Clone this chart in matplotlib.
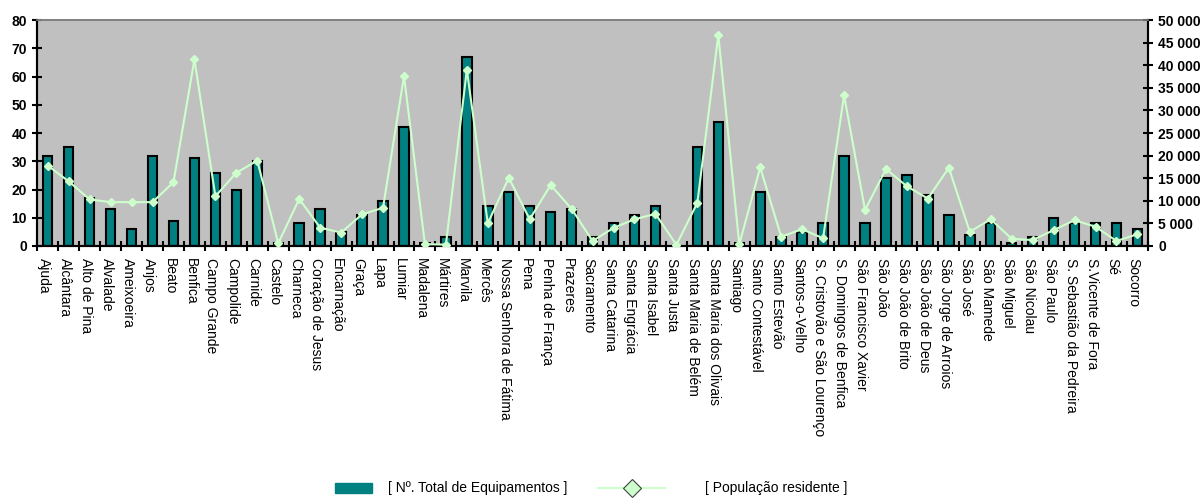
import matplotlib
matplotlib.use("Agg")
import matplotlib.pyplot as plt
from matplotlib.ticker import FuncFormatter, FixedLocator
from matplotlib.patches import Rectangle
from matplotlib.lines import Line2D
import matplotlib.transforms as mtransforms
import numpy as np

plt.rcParams['font.family'] = ['Liberation Sans', 'DejaVu Sans']

categories = [
    "Ajuda", "Alcântara", "Alto de Pina", "Alvalade", "Ameixoeira", "Anjos", "Beato",
    "Benfica", "Campo Grande", "Campolide", "Carnide", "Castelo", "Charneca",
    "Coração de Jesus", "Encarnação", "Graça", "Lapa", "Lumiar", "Madalena", "Mártires",
    "Marvila", "Mercês", "Nossa Senhora de Fátima", "Pena", "Penha de França", "Prazeres",
    "Sacramento", "Santa Catarina", "Santa Engrácia", "Santa Isabel", "Santa Justa",
    "Santa Maria de Belém", "Santa Maria dos Olivais", "Santiago", "Santo Contestável",
    "Santo Estevão", "Santos-o-Velho", "S. Cristovão e São Lourenço", "S. Domingos de Benfica",
    "São Francisco Xavier", "São João", "São João de Brito", "São João de Deus",
    "São Jorge de Arroios", "São José", "São Mamede", "São Miguel", "São Nicolau",
    "São Paulo", "S. Sebastião da Pedreira", "S.Vicente de Fora", "Sé", "Socorro",
]

equipamentos = [32, 35, 17, 13, 6, 32, 9, 31, 26, 20, 30, 1, 8, 13, 5, 11, 16, 42, 1, 3,
                67, 14, 19, 14, 12, 13, 3, 8, 11, 14, 0, 35, 44, 1, 19, 3, 5, 8, 32,
                8, 24, 25, 18, 11, 4, 8, 1, 3, 10, 8, 8, 8, 6]

populacao = [17800, 14300, 10300, 9700, 9700, 9700, 14100, 41300, 11000, 16200, 18900, 600,
             10400, 4050, 2950, 7000, 8450, 37600, 400, 300, 39000, 5000, 15100, 5900, 13500,
             8200, 1100, 4000, 5900, 7100, 250, 9550, 46700, 350, 17400, 2050, 3700, 1700,
             33400, 7950, 17050, 13200, 10500, 17300, 3150, 5900, 1600, 1300, 3500, 5700,
             4250, 1100, 2600]

left_ticks = list(range(0, 81, 10))
right_ticks = list(range(0, 50001, 5000))
legend_labels = ["[ Nº. Total de Equipamentos ]", "[ População residente ]"]

bar_color = "#008080"
line_color = "#CCFFCC"

W, H = 1202, 504
fig = plt.figure(figsize=(W / 100, H / 100), dpi=100)
ax = fig.add_axes([0.031, 0.512, 0.924, 0.448])
ax.set_facecolor("#C0C0C0")

x = np.arange(len(categories))
ax.bar(x, equipamentos, width=0.45, color=bar_color, edgecolor="black", linewidth=1.5, zorder=2)
ax.set_xlim(-0.5, len(categories) - 0.5)
ax.set_ylim(0, 80)
ax.set_yticks(left_ticks)
ax.set_xticks(x)
ax.set_xticklabels(categories, rotation=-90, fontsize=10, va="top", ha="center")
ax.tick_params(axis="x", length=0, pad=9)
shift = mtransforms.ScaledTranslation(-4 / 100, 0, fig.dpi_scale_trans)
for lab in ax.get_xticklabels():
    lab.set_transform(lab.get_transform() + shift)
ax.xaxis.set_minor_locator(FixedLocator(np.arange(-0.5, len(categories), 1.0)))
ax.tick_params(axis="x", which="minor", direction="inout", length=7, width=1.5, color="black")
ax.tick_params(axis="y", direction="inout", length=7, width=1.5, labelsize=10, pad=4)
for lab in ax.get_yticklabels():
    lab.set_fontweight("bold")

ax2 = ax.twinx()
ax2.set_facecolor("none")
ax2.plot(x, populacao, color=line_color, linewidth=1.5, marker="D", markersize=4,
         markerfacecolor=line_color, markeredgecolor=line_color, zorder=3)
ax2.set_ylim(0, 50000)
ax2.set_yticks(right_ticks)
ax2.yaxis.set_major_formatter(FuncFormatter(lambda v, p: f"{int(v):,}".replace(",", " ")))
ax2.tick_params(axis="y", direction="inout", length=7, width=1.5, labelsize=10, pad=4)
for lab in ax2.get_yticklabels():
    lab.set_fontweight("bold")

for a in (ax, ax2):
    a.spines["left"].set_linewidth(1.5)
    a.spines["right"].set_linewidth(1.5)
    a.spines["bottom"].set_linewidth(1.5)
    a.spines["top"].set_color("#808080")
    a.spines["top"].set_linewidth(1.2)

# Legend drawn in figure pixel space
def fx(px):
    return px / W

def fy(py):
    return 1 - py / H

ly = 488
fig.add_artist(Rectangle((fx(335), fy(ly + 5)), fx(372) - fx(335), (10) / H,
                         transform=fig.transFigure, facecolor=bar_color, edgecolor=bar_color))
fig.text(fx(388), fy(ly), legend_labels[0], fontsize=10, va="center", ha="left")
fig.add_artist(Line2D([fx(598), fx(665)], [fy(ly), fy(ly)], transform=fig.transFigure,
                      color=line_color, linewidth=1.5))
fig.add_artist(Line2D([fx(632)], [fy(ly)], transform=fig.transFigure, marker="D",
                      markersize=9, markerfacecolor=line_color, markeredgecolor="#404040",
                      markeredgewidth=0.8, linestyle="none"))
fig.text(fx(705), fy(ly), legend_labels[1], fontsize=10, va="center", ha="left")

fig.savefig("out.png", dpi=100)
